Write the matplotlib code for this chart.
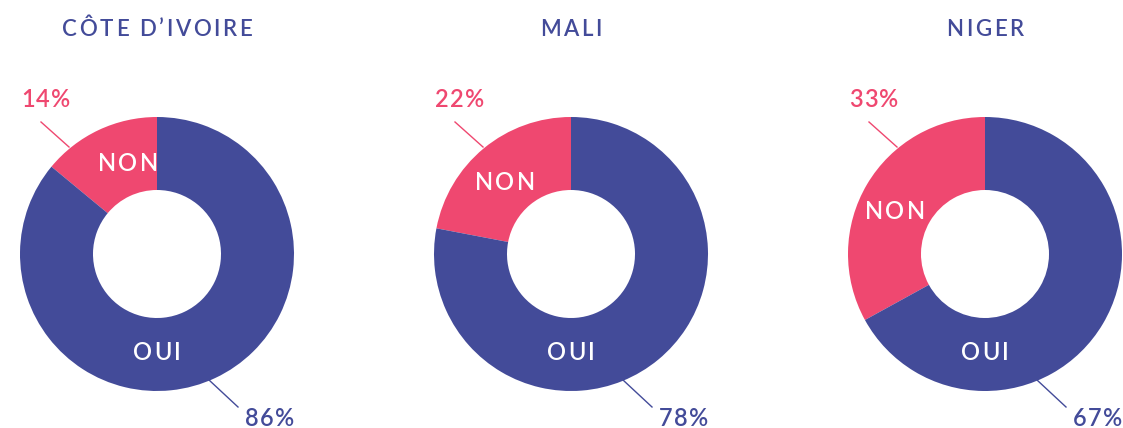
import matplotlib.pyplot as plt
from matplotlib.font_manager import FontProperties, findfont, get_font

# Donnees
pays = ["CÔTE D’IVOIRE", "MALI", "NIGER"]
non = [14, 22, 33]
oui = [86, 78, 67]

# Couleurs
bleu = "#434B99"
rose = "#EF4870"

W, H = 1123, 428
DPI = 100
plt.rcParams['font.family'] = ['Lato', 'DejaVu Sans']

fig = plt.figure(figsize=(W / DPI, H / DPI), dpi=DPI)
ax = fig.add_axes([0, 0, 1, 1])
ax.set_xlim(0, W)
ax.set_ylim(0, H)
ax.set_aspect('equal')
ax.axis('off')


def texte(x, y, s, taille, poids, couleur, espace, ha='center'):
    # texte avec espacement des lettres (y = ligne de base, en pixels depuis le haut)
    fp = FontProperties(family='Lato', weight=poids, size=taille)
    font = get_font(findfont(fp))
    font.set_size(taille, DPI)
    avances = [font.load_char(ord(c)).linearHoriAdvance / 65536 for c in s]
    total = sum(avances) + espace * (len(s) - 1)
    x0 = x - total / 2 if ha == 'center' else x
    for c, a in zip(s, avances):
        ax.text(x0, H - y, c, ha='left', va='baseline', fontproperties=fp, color=couleur)
        x0 += a + espace


# Geometrie (pixels)
centres_x = [157, 571, 985]
cy = 254
r_ext = 137
r_int = 64
# position du mot NON par rapport au centre
pos_non = [(-29, -91), (-66, -72), (-90, -43)]

for i, nom in enumerate(pays):
    cx = centres_x[i]
    ax.pie([non[i], oui[i]], colors=[rose, bleu], startangle=90, counterclock=True,
           radius=r_ext, center=(cx, H - cy),
           wedgeprops=dict(width=r_ext - r_int, linewidth=0))
    texte(cx, 36, nom, 16, 'semibold', bleu, 2.6)
    # etiquettes dans l'anneau
    dx, dy = pos_non[i]
    texte(cx + dx, cy + dy + 8, "NON", 17, 'semibold', 'white', 2.2)
    texte(cx, cy + 98 + 8, "OUI", 17, 'semibold', 'white', 2.2)
    # pourcentages et traits de rappel
    ax.plot([cx - 88, cx - 116], [H - cy + 107, H - cy + 132], color=rose, lw=1)
    texte(cx - 136, 107, f"{non[i]}%", 17, 'semibold', rose, 1.2, ha='left')
    ax.plot([cx + 52, cx + 81], [H - cy - 126, H - cy - 153], color=bleu, lw=1)
    texte(cx + 88, 426, f"{oui[i]}%", 17, 'semibold', bleu, 1.2, ha='left')

ax.set_xlim(0, W)
ax.set_ylim(0, H)
fig.savefig("out.png", dpi=DPI, facecolor='white')
